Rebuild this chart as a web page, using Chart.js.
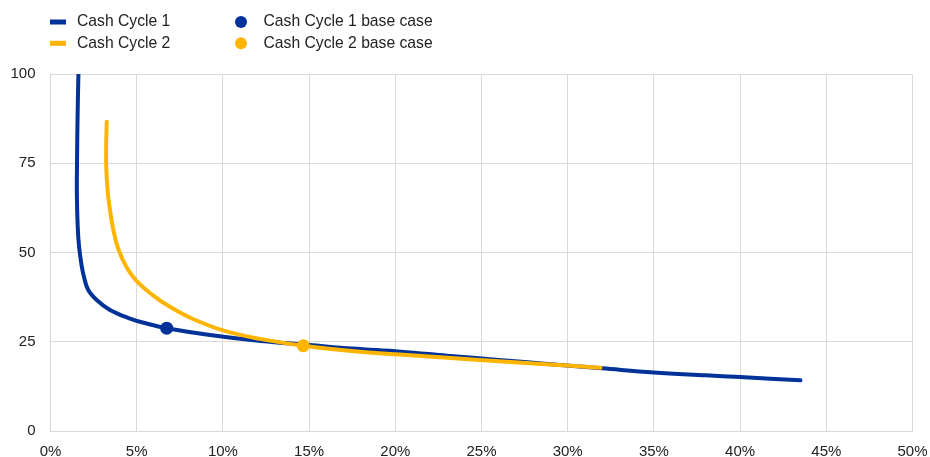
<!DOCTYPE html>
<html><head><meta charset="utf-8">
<script src="https://cdn.jsdelivr.net/npm/chart.js@4"></script>
<style>html,body{margin:0;padding:0;background:#fff;}#wrap{width:930px;height:457px;position:relative;}</style>
</head><body><div id="wrap"><canvas id="c"></canvas></div>
<script>
// ---- data ----
const seriesNames = ['Cash Cycle 1', 'Cash Cycle 2', 'Cash Cycle 1 base case', 'Cash Cycle 2 base case'];
const cc1X = [1.62, 1.57, 1.54, 1.53, 1.58, 1.66, 1.80, 1.94, 2.19, 2.68, 3.45, 4.61, 5.58, 6.74, 9.25, 12.2, 15.0, 17.5, 20.3, 23.0, 26.0, 29.0, 32.0, 35.0, 38.0, 40.0, 43.5];
const cc1Y = [100, 88, 76, 66, 57, 51.5, 46.5, 43.2, 39.5, 36.7, 33.9, 31.5, 30.1, 28.8, 26.9, 25.2, 24.1, 23.1, 22.2, 21.1, 19.9, 18.7, 17.55, 16.4, 15.6, 15.1, 14.2];
const cc2X = [3.26, 3.23, 3.24, 3.32, 3.45, 3.64, 3.93, 4.42, 5.0, 6.0, 7.0, 8.3, 10.0, 12.15, 14.66, 17.95, 20.27, 24.9, 28.5, 31.9];
const cc2Y = [86.6, 80.0, 73.0, 67.0, 62.0, 56.5, 51.0, 45.8, 42.0, 37.8, 34.6, 31.3, 28.2, 25.8, 23.9, 22.2, 21.4, 19.9, 18.8, 17.7];
const base1X = [6.74], base1Y = [28.8];
const base2X = [14.66], base2Y = [23.9];
const xTickValues = [0, 5, 10, 15, 20, 25, 30, 35, 40, 45, 50];
const yTickValues = [0, 25, 50, 75, 100];

const BLUE = '#003299', YELLOW = '#ffb400';
const pts = (xs, ys) => xs.map((x, i) => ({x, y: ys[i]}));

const legendPlugin = {
  id: 'customLegend',
  afterDraw(chart, args, opts) {
    const ctx = chart.ctx;
    ctx.save();
    ctx.font = opts.font;
    ctx.textBaseline = 'middle';
    ctx.textAlign = 'left';
    opts.items.forEach(it => {
      const ds = chart.data.datasets[it.ds];
      const col = ds.borderColor || ds.backgroundColor;
      ctx.fillStyle = col;
      if (it.type === 'line') {
        ctx.fillRect(it.x, it.y - 2.5, 16, 5);
        ctx.fillStyle = opts.color;
        ctx.fillText(ds.label, it.x + 27, it.y);
      } else {
        ctx.beginPath();
        ctx.arc(it.x + 6, it.y, 6, 0, Math.PI * 2);
        ctx.fill();
        ctx.fillStyle = opts.color;
        ctx.fillText(ds.label, it.x + 28.5, it.y);
      }
    });
    ctx.restore();
  }
};

const tickFont = {family: '"Liberation Sans", Arial, sans-serif', size: 15};
new Chart(document.getElementById('c'), {
  type: 'scatter',
  data: {
    datasets: [
      {label: seriesNames[0], data: pts(cc1X, cc1Y), showLine: true, borderColor: BLUE, backgroundColor: BLUE, borderWidth: 4, pointRadius: 0, tension: 0.4, borderCapStyle: 'round', borderJoinStyle: 'round', order: 3},
      {label: seriesNames[1], data: pts(cc2X, cc2Y), showLine: true, borderColor: YELLOW, backgroundColor: YELLOW, borderWidth: 4, pointRadius: 0, tension: 0.4, borderCapStyle: 'round', borderJoinStyle: 'round', order: 2},
      {label: seriesNames[2], data: pts(base1X, base1Y), borderColor: BLUE, backgroundColor: BLUE, pointRadius: 6.5, borderWidth: 0, order: 1},
      {label: seriesNames[3], data: pts(base2X, base2Y), borderColor: YELLOW, backgroundColor: YELLOW, pointRadius: 6.5, borderWidth: 0, order: 0}
    ]
  },
  options: {
    responsive: true, maintainAspectRatio: false, animation: false,
    layout: {padding: {top: 74, right: 17.5, bottom: 0, left: 0}},
    plugins: {
      legend: {display: false}, tooltip: {enabled: false},
      customLegend: {
        font: '15.7px "Liberation Sans", Arial, sans-serif', color: '#222',
        items: [
          {ds: 0, type: 'line', x: 50, y: 22},
          {ds: 1, type: 'line', x: 50, y: 43.3},
          {ds: 2, type: 'point', x: 235, y: 22},
          {ds: 3, type: 'point', x: 235, y: 43.3}
        ]
      }
    },
    scales: {
      x: {
        type: 'linear', min: 0, max: 50,
        afterBuildTicks: s => { s.ticks = xTickValues.map(v => ({value: v})); },
        afterFit: s => { s.height = 26; s.paddingLeft = 0; s.paddingRight = 0; },
        ticks: {callback: v => v + '%', font: tickFont, color: '#222', padding: 12, maxRotation: 0},
        grid: {color: '#d9d9d9', lineWidth: 1, drawTicks: false},
        border: {color: '#d9d9d9'}
      },
      y: {
        min: 0, max: 100,
        afterBuildTicks: s => { s.ticks = yTickValues.map(v => ({value: v})); },
        afterFit: s => { s.width = 50.5; s.paddingTop = 0; s.paddingBottom = 0; },
        ticks: {font: tickFont, color: '#222', padding: 15},
        grid: {color: '#d9d9d9', lineWidth: 1, drawTicks: false},
        border: {color: '#d9d9d9'}
      }
    }
  },
  plugins: [legendPlugin]
});
</script></body></html>
